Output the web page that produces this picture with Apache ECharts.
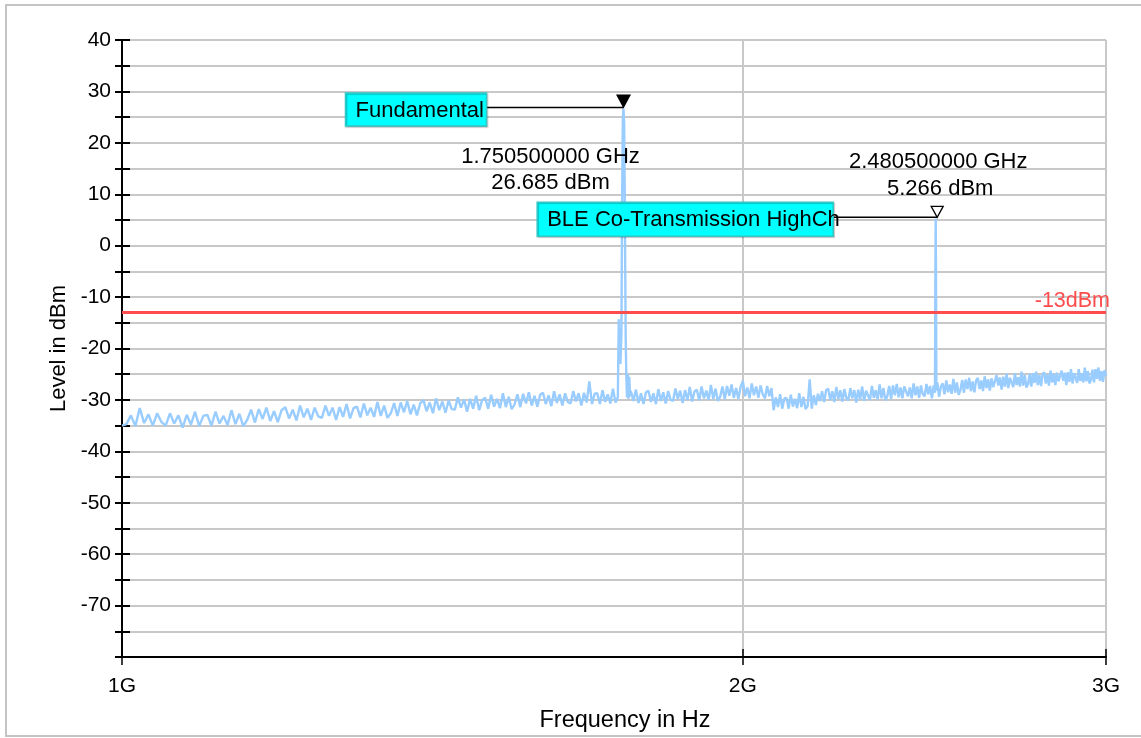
<!DOCTYPE html>
<html><head><meta charset="utf-8">
<script src="https://cdn.jsdelivr.net/npm/echarts@6/dist/echarts.min.js"></script>
<style>html,body{margin:0;padding:0;background:#fff}#c{width:1141px;height:738px}</style>
</head><body><div id="c"></div>
<script>
// ---- data ----
const sweepStartHz = 1.0e9;
const sweepStepHz = 5e6;
// measured noise floor, one value every 5 MHz from 1 GHz to 3 GHz (null where the carriers are)
const traceLevels = [
-35.0,-34.7,-33.0,-35.1,-31.6,-34.5,-32.8,-35.0,-32.6,-34.3,
-35.0,-32.6,-34.6,-33.0,-35.4,-32.9,-34.8,-32.3,-35.1,-33.1,
-32.9,-35.0,-32.3,-34.6,-33.1,-34.9,-32.0,-34.7,-32.7,-35.1,
-33.9,-31.9,-34.4,-31.8,-33.7,-31.5,-34.1,-32.2,-34.3,-32.0,
-31.4,-33.6,-31.9,-34.0,-31.1,-33.4,-31.7,-33.9,-31.5,-33.2,
-33.5,-31.1,-33.1,-31.5,-33.9,-31.4,-33.3,-30.8,-33.6,-31.6,
-31.3,-33.4,-30.7,-33.0,-31.5,-33.3,-30.4,-33.1,-31.1,-33.5,
-32.6,-30.6,-33.1,-30.5,-32.4,-30.2,-32.8,-30.9,-33.0,-30.7,
-30.0,-32.2,-30.5,-32.6,-29.7,-32.0,-30.3,-32.5,-30.1,-31.8,
-31.9,-29.5,-31.5,-29.9,-32.3,-29.8,-31.7,-29.2,-32.0,-30.0,
-29.6,-31.7,-29.0,-31.3,-29.8,-31.6,-28.7,-31.4,-29.4,-31.8,
-30.9,-28.9,-31.4,-28.8,-30.7,-28.5,-31.1,-29.2,-31.3,-29.0,
-28.6,-30.8,-29.1,-31.2,-28.3,-30.6,-28.9,-31.1,-28.7,-30.4,
-30.7,-28.3,-30.3,-28.7,-31.1,-28.6,-30.5,-26.4,-30.8,-28.8,
-28.7,-30.8,-28.1,-30.4,-28.9,-30.7,-27.8,-30.5,null,null,
null,null,null,-28.3,-30.2,-28.0,-30.6,-28.7,-30.8,-28.5,
-28.2,-30.4,-28.7,-30.8,-27.9,-30.2,-28.5,-30.7,-28.3,-30.0,
-30.2,-27.8,-29.8,-28.2,-30.6,-28.1,-30.0,-27.5,-30.3,-28.3,
-28.0,-30.1,-27.4,-29.7,-28.2,-30.0,-27.1,-29.8,-27.8,-30.2,
-29.4,-27.4,-29.9,-27.3,-29.2,-27.0,-29.6,-27.7,-29.8,-27.5,
-26.3,-29.3,-27.6,-29.7,-26.8,-29.1,-27.4,-29.6,-27.2,-28.9,
-29.7,-27.3,-29.3,-27.7,-32.0,-29.5,-31.4,-28.9,-31.7,-29.7,
-29.6,-31.7,-29.0,-31.3,-29.8,-31.6,-28.7,-31.4,-29.4,-31.8,
-31.2,-26.0,-31.7,-29.1,-31.0,-28.8,-30.2,-28.3,-30.4,-28.1,
-27.8,-30.0,-28.3,-30.4,-27.5,-29.8,-28.1,-30.3,-27.9,-29.6,
-30.1,-27.7,-29.7,-28.1,-30.5,-28.0,-29.9,-27.4,-30.2,-28.2,
-27.9,-30.0,-27.3,-29.6,-28.1,-29.9,-27.0,-29.7,-27.7,-30.1,
-29.3,-27.3,-29.8,-27.2,-29.1,-26.9,-29.5,-27.6,-29.7,-27.4,
-27.1,-29.3,-27.6,-29.7,-26.8,-29.1,-27.4,-29.6,-27.2,-28.9,
-29.3,-26.9,-28.9,-27.3,-29.7,-27.2,null,-26.6,-29.4,-27.4,
-26.8,-28.9,-26.2,-28.5,-27.0,-28.8,-25.9,-28.6,-26.6,-29.0,
-28.1,-26.1,-28.6,-26.0,-27.9,-25.7,-28.3,-26.4,-28.5,-26.2,
-25.7,-27.9,-26.2,-28.3,-25.4,-27.7,-26.0,-28.2,-25.8,-27.5,
-27.6,-25.2,-27.2,-25.6,-28.0,-25.5,-27.4,-24.9,-27.7,-25.7,
-25.4,-27.5,-24.8,-27.1,-25.6,-27.4,-24.5,-27.2,-25.2,-27.6,
-26.9,-24.9,-27.4,-24.8,-26.7,-24.5,-27.1,-25.2,-27.3,-25.0,
-24.6,-26.8,-25.1,-27.2,-24.3,-26.6,-24.9,-27.1,-24.7,-26.4,
-26.7,-24.3,-26.3,-24.7,-27.1,-24.6,-26.5,-24.0,-26.8,-24.8,
-24.6,-26.7,-24.0,-26.3,-24.8,-26.6,-23.7,-26.4,-24.4,-26.8,
-26.1,-24.1,-26.6,-24.0,-25.9,-23.7,-26.3,-24.4,-26.5,-24.2,
-25.4
];
// carriers (GHz, dBm)
const carrier1Freq  = [1.7370,1.7395,1.7413,1.7428,1.7445,1.7465,1.7478,1.7492,1.7505,1.7518,1.7532,1.7548,1.7562,1.7575,1.7590,1.7605,1.7618,1.7635];
const carrier1Level = [-30.8,-29.5,-14.3,-21.0,-23.0,-17.0,8.0,24.5,26.685,24.0,6.0,-18.0,-26.0,-29.5,-25.0,-29.8,-25.5,-29.3];
const carrier2Freq  = [2.4785,2.4797,2.4805,2.4813,2.4825];
const carrier2Level = [-28.6,-5.0,5.266,-5.0,-28.2];

const xTickValues = [1e9, 2e9, 3e9];
const xTickLabels = ['1G', '2G', '3G'];
const yMin = -80, yMax = 40, yStep = 10;
const limitLevel = -13;
const limitLabel = '-13dBm';

const markerNames  = ['Fundamental', 'BLE Co-Transmission HighCh'];
const markerFreqHz = [1.7505e9, 2.4805e9];
const markerLevel  = [26.685, 5.266];
const markerFreqText  = ['1.750500000 GHz', '2.480500000 GHz'];
const markerLevelText = ['26.685 dBm', '5.266 dBm'];

// ---- build ----
const pts = [];
traceLevels.forEach((v, i) => { if (v !== null) pts.push([sweepStartHz + i * sweepStepHz, v]); });
carrier1Freq.forEach((f, i) => pts.push([f * 1e9, carrier1Level[i]]));
carrier2Freq.forEach((f, i) => pts.push([f * 1e9, carrier2Level[i]]));
pts.sort((a, b) => a[0] - b[0]);

const FONT = 'Liberation Sans, Arial, sans-serif';
const gridColor = '#c8c8c8';
const chart = echarts.init(document.getElementById('c'), null, { renderer: 'canvas' });

const tickFmt = v => {
  const k = xTickValues.findIndex(t => Math.abs(t - v) / t < 1e-6);
  return k >= 0 ? xTickLabels[k] : '';
};

chart.setOption({
  animation: false,
  backgroundColor: '#fff',
  grid: { left: 122, right: 35, top: 40, bottom: 81, containLabel: false },
  xAxis: [{
    type: 'log', logBase: 10, min: 1e9, max: 3e9,
    name: 'Frequency in Hz', nameLocation: 'middle', nameGap: 52,
    nameTextStyle: { fontFamily: FONT, fontSize: 23.5, color: '#000', padding: [0, 0, 0, 22] },
    axisLine: { show: true, onZero: false, lineStyle: { color: '#000', width: 2 } },
    axisTick: { show: true, length: 8, customValues: xTickValues, lineStyle: { color: '#000', width: 1.5 } },
    axisLabel: { customValues: xTickValues, formatter: tickFmt, margin: 19, fontFamily: FONT, fontSize: 21, color: '#000' },
    splitLine: { show: true, lineStyle: { color: gridColor, width: 2 } },
    minorTick: { show: false }, minorSplitLine: { show: false }
  }, {
    type: 'log', logBase: 10, min: 1e9, max: 3e9, position: 'bottom',
    axisLine: { show: false, onZero: false },
    axisTick: { show: true, inside: true, length: 8, customValues: xTickValues, lineStyle: { color: '#000', width: 1.5 } },
    axisLabel: { show: false }, splitLine: { show: false }
  }],
  yAxis: [{
    type: 'value', min: yMin, max: yMax, interval: yStep,
    name: 'Level in dBm', nameLocation: 'middle', nameGap: 52, nameRotate: 90,
    nameTextStyle: { fontFamily: FONT, fontSize: 22, color: '#000' },
    axisLine: { show: true, onZero: false, lineStyle: { color: '#000', width: 2 } },
    axisTick: { show: true, length: 7, lineStyle: { color: '#000', width: 2 } },
    minorTick: { show: true, splitNumber: 2, length: 7, lineStyle: { color: '#000', width: 2 } },
    axisLabel: { margin: 11, fontFamily: FONT, fontSize: 21, color: '#000', formatter: v => v === yMin ? '' : String(v) },
    splitLine: { show: true, lineStyle: { color: gridColor, width: 2 } },
    minorSplitLine: { show: true, lineStyle: { color: gridColor, width: 2 } }
  }, {
    type: 'value', min: yMin, max: yMax, interval: yStep, position: 'left',
    axisLine: { show: false, onZero: false },
    axisTick: { show: true, inside: true, length: 8, lineStyle: { color: '#000', width: 2 } },
    minorTick: { show: true, splitNumber: 2, length: 8, lineStyle: { color: '#000', width: 2 } },
    axisLabel: { show: false }, splitLine: { show: false }, minorSplitLine: { show: false }
  }],
  series: [{
    type: 'line', xAxisIndex: 0, yAxisIndex: 0, data: pts, showSymbol: false, symbol: 'none',
    lineStyle: { color: '#99ccff', width: 2.4 }, z: 3,
    markLine: {
      silent: true, symbol: 'none', animation: false,
      lineStyle: { color: '#ff4d4d', width: 3, type: 'solid' },
      label: { show: true, position: 'insideEndTop', formatter: limitLabel, color: '#ff4d4d', fontFamily: FONT, fontSize: 21.5, distance: [-4, 0] },
      data: [{ yAxis: limitLevel }]
    }
  }]
});

// ---- marker annotations positioned from data via the chart's scales ----
const g = [];
g.push({ type: 'rect', shape: { x: 6, y: 5, width: 1140, height: 731 }, style: { fill: null, stroke: '#c4c4c4', lineWidth: 2 }, z: 0, silent: true });

const p1 = chart.convertToPixel({ gridIndex: 0 }, [markerFreqHz[0], markerLevel[0]]);
const p2 = chart.convertToPixel({ gridIndex: 0 }, [markerFreqHz[1], markerLevel[1]]);

function box(x, y, w, h, text) {
  g.push({ type: 'rect', shape: { x: x, y: y, width: w, height: h }, style: { fill: '#00ffff', stroke: '#30c8c8', lineWidth: 1.5, shadowColor: 'rgba(0,0,0,0.25)', shadowOffsetX: 1, shadowOffsetY: 1, shadowBlur: 1 }, z: 10 });
  g.push({ type: 'text', x: x + 10, y: y + h / 2 + 1, style: { text: text, fill: '#000', font: '22px ' + FONT, textVerticalAlign: 'middle', textAlign: 'left' }, z: 11 });
}
function label(x, y, text) {
  g.push({ type: 'text', x: x, y: y, style: { text: text, fill: '#000', font: '22px ' + FONT, textAlign: 'center', textVerticalAlign: 'middle' }, z: 11 });
}

// marker 1 (filled)
{
  const mx = p1[0], my = p1[1];
  g.push({ type: 'line', shape: { x1: mx - 137, y1: my - 1, x2: mx, y2: my - 1 }, style: { stroke: '#000', lineWidth: 1.5 }, z: 9 });
  g.push({ type: 'polygon', shape: { points: [[mx - 7.5, my - 14], [mx + 7.5, my - 14], [mx, my]] }, style: { fill: '#000' }, z: 12 });
  box(mx - 278, my - 15.5, 141, 33, markerNames[0]);
  label(mx - 73, my + 48, markerFreqText[0]);
  label(mx - 73, my + 74, markerLevelText[0]);
}
// marker 2 (hollow)
{
  const mx = p2[0] + 1.5, my = p2[1] - 1.3;
  g.push({ type: 'line', shape: { x1: mx - 104, y1: my, x2: mx, y2: my }, style: { stroke: '#000', lineWidth: 1.5 }, z: 9 });
  g.push({ type: 'polygon', shape: { points: [[mx - 6, my - 11], [mx + 6, my - 11], [mx, my]] }, style: { fill: '#fff', stroke: '#000', lineWidth: 1.3 }, z: 12 });
  box(mx - 400, my - 15, 296, 34, markerNames[1]);
  label(mx + 1, my - 55.5, markerFreqText[1]);
  label(mx + 3, my - 28, markerLevelText[1]);
}
chart.setOption({ graphic: g });
</script>
</body></html>
